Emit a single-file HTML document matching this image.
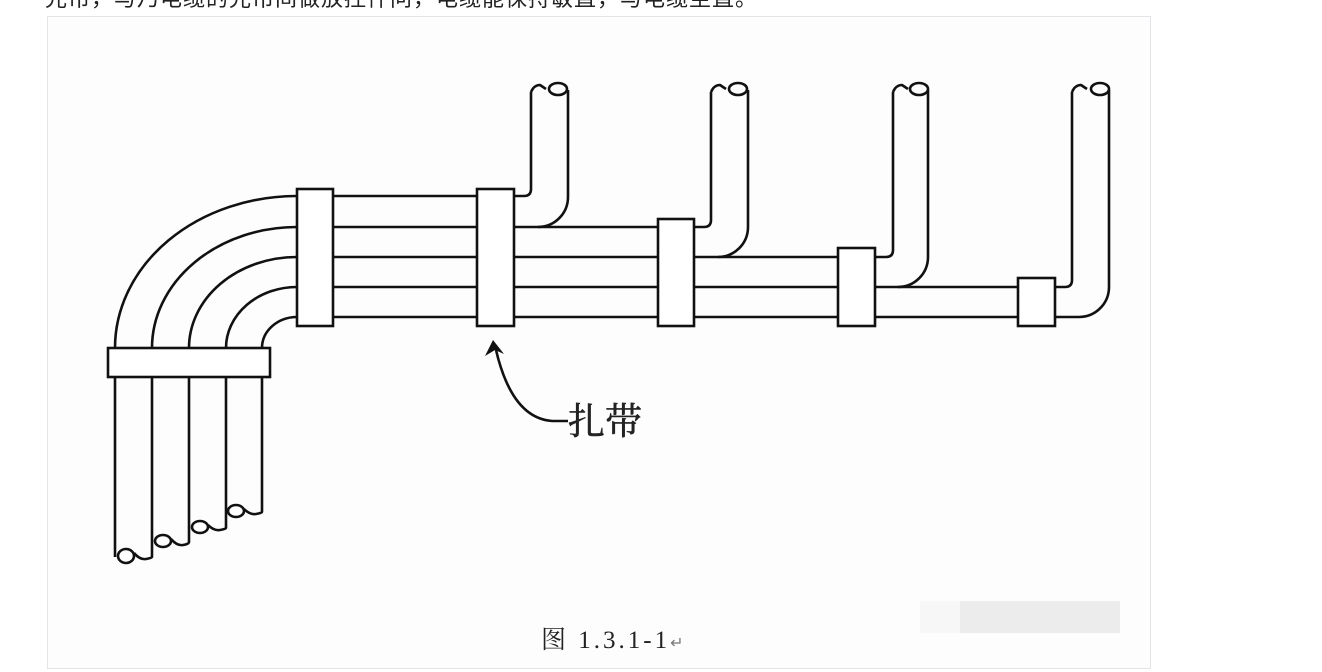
<!DOCTYPE html>
<html><head><meta charset="utf-8"><style>
html,body{margin:0;padding:0;background:#fff;width:1322px;height:672px;overflow:hidden;position:relative}
.top{position:absolute;left:45px;top:-19px;font:22px "Liberation Sans","Noto Sans CJK SC",sans-serif;color:#222;white-space:nowrap;letter-spacing:1px}
.frame{position:absolute;left:47px;top:16px;width:1102px;height:651px;border:1px solid #e4e4e8;background:#fdfdfe}
svg{position:absolute;left:0;top:0}
</style></head><body>
<div class="top">光帘，与乃电缆的光帘间做放控件问，电缆能保持敏直，与电缆至直。</div>
<div class="frame"></div>
<svg width="1322" height="672" viewBox="0 0 1322 672">
<g fill="none" stroke="#111" stroke-width="2.6" stroke-linejoin="round">
<path d="M115,557 V348 A182 152 0 0 1 297 196 H524 Q531,196 531,189 V92"/>
<path d="M152,557 V348 A145 121 0 0 1 297 227 H704 Q711,227 711,220 V92"/>
<path d="M189,542 V348 A108 91 0 0 1 297 257 H886 Q893,257 893,250 V92"/>
<path d="M226,528 V348 A71 61 0 0 1 297 287 H1065 Q1072,287 1072,280 V92"/>
<path d="M262,512 V348 A35 31 0 0 1 297 317 H1079"/>
<path d="M568,90 V197 A30 30 0 0 1 538 227"/>
<path d="M748,90 V227 A30 30 0 0 1 718 257"/>
<path d="M928,90 V257 A30 30 0 0 1 898 287"/>
<path d="M1109,90 V287 A30 30 0 0 1 1079 317"/>
<path d="M531,92 Q534,85 540,85 L546,89"/><ellipse cx="558" cy="89" rx="9" ry="6"/>
<path d="M711,92 Q714,85 720,85 L726,89"/><ellipse cx="738" cy="89" rx="9" ry="6"/>
<path d="M893,92 Q896,85 902,85 L908,89"/><ellipse cx="919" cy="89" rx="9" ry="6"/>
<path d="M1072,92 Q1075,85 1081,85 L1087,89"/><ellipse cx="1100" cy="89" rx="9" ry="6"/>
<ellipse cx="126" cy="556" rx="8" ry="7"/><path d="M134,553 Q140,560 146,559 Q152,558 152,557"/>
<ellipse cx="163" cy="541" rx="8" ry="6"/><path d="M171,539 Q177,546 183,545 Q189,544 189,542"/>
<ellipse cx="200" cy="527" rx="8" ry="6"/><path d="M208,525 Q214,531 220,530 Q226,529 226,528"/>
<ellipse cx="236" cy="511" rx="8" ry="6"/><path d="M244,509 Q250,515 256,514 Q262,513 262,512"/>
</g>
<g fill="#fff" stroke="#111" stroke-width="2.6">
<rect x="297" y="189" width="36" height="137"/>
<rect x="477" y="189" width="37" height="137"/>
<rect x="658" y="219" width="36" height="107"/>
<rect x="838" y="248" width="37" height="78"/>
<rect x="1018" y="278" width="37" height="48"/>
<rect x="108" y="348" width="162" height="29"/>
</g>
<path d="M568,421 H552 Q512,418 496,350" fill="none" stroke="#111" stroke-width="2.6"/>
<path d="M493,340 L485,356 L495,350 L504,354 Z" fill="#111"/>
<text x="568" y="434" font-family="'Liberation Serif','Noto Serif CJK SC',serif" font-size="37" fill="#222" stroke="#222" stroke-width="0.6">扎带</text>
<text x="541" y="648" font-family="'Liberation Serif','Noto Serif CJK SC',serif" font-size="25" fill="#222" letter-spacing="3">图 1.3.1-1<tspan font-size="16" fill="#777" letter-spacing="0">↵</tspan></text>
<rect x="920" y="601" width="200" height="32" fill="#ececec"/>
<rect x="920" y="601" width="40" height="32" fill="#f7f7f7"/>
</svg>
</body></html>
